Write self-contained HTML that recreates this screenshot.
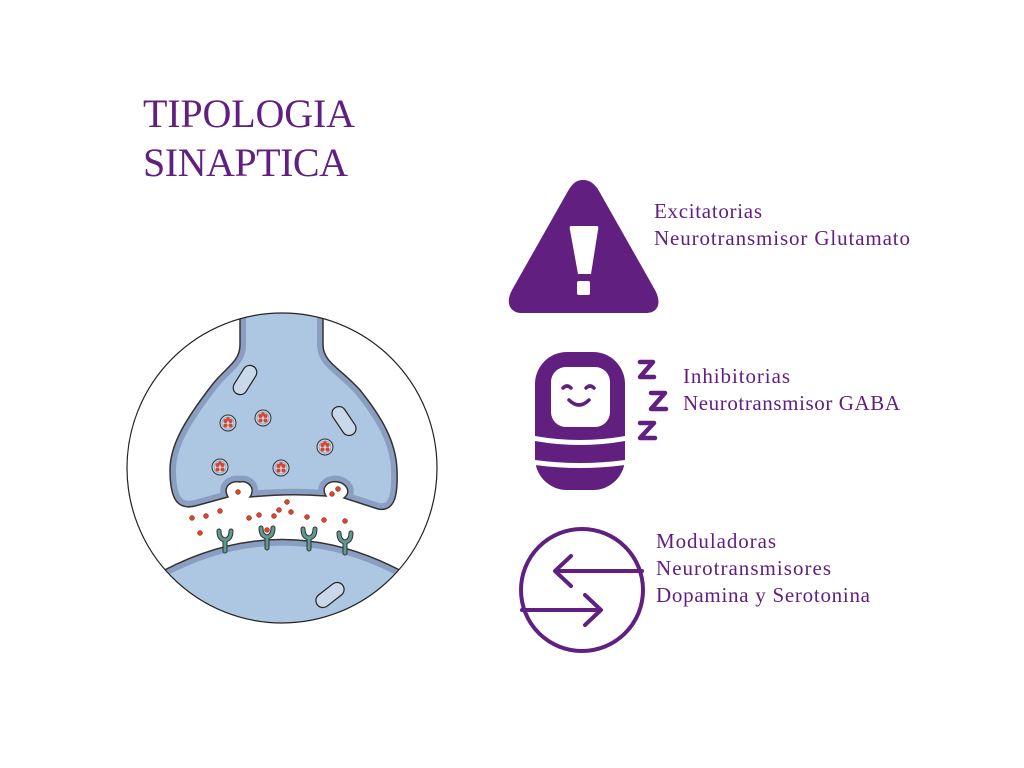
<!DOCTYPE html>
<html><head><meta charset="utf-8"><style>
html,body{margin:0;padding:0;background:#fff;}
svg{display:block;}
</style></head><body>
<svg width="1024" height="768" viewBox="0 0 1024 768" xmlns="http://www.w3.org/2000/svg">
<defs>
<clipPath id="cc"><circle cx="282" cy="468" r="155"/></clipPath>
<path id="pre" d="M240,300 L240,345 C240,362 225,368 212,385 C185,420 170,445 170,470 C170,500 178,510 195,506 L228,497 C222,486 232,480 240,482 C248,480 256,488 250,497 Q290,493 326,496 C320,486 330,480 338,482 C346,483 352,492 344,498 L378,509 C395,512 398,495 397,470 C396,440 380,415 360,390 C340,368 323,362 323,345 L323,300 Z"/>
<path id="post" d="M150,578 Q282,501 414,578 L414,650 L150,650 Z"/>
<clipPath id="cpre"><use href="#pre"/></clipPath>
<clipPath id="cpost"><use href="#post"/></clipPath>
<g id="ves"><circle r="8" fill="#c9d8ea" stroke="#333" stroke-width="1"/><circle r="6" fill="none" stroke="#8a9ec2" stroke-width="0.8"/><circle cx="-2.5" cy="-2" r="2" fill="#d9452b"/><circle cx="2.5" cy="-2" r="2" fill="#d9452b"/><circle cx="-2.5" cy="2.5" r="2" fill="#d9452b"/><circle cx="2.5" cy="2.5" r="2" fill="#d9452b"/><circle cx="0" cy="-4" r="1.8" fill="#d9452b"/></g>
<g id="mito"><rect x="-16" y="-7" width="32" height="14" rx="7" fill="#c9d8ea" stroke="#222" stroke-width="1.2"/></g>
<g id="rec"><path d="M-6,-12 Q-6,-4 0,-3 Q6,-4 6,-12 M0,-3 L0,8" fill="none" stroke="#333" stroke-width="5" stroke-linecap="round"/><path d="M-6,-12 Q-6,-4 0,-3 Q6,-4 6,-12 M0,-3 L0,8" fill="none" stroke="#5e9a8f" stroke-width="3" stroke-linecap="round"/></g>
</defs>

<text x="143" y="127" font-family="Liberation Serif, serif" font-size="40" fill="#611f80" textLength="212">TIPOLOGIA</text>
<text x="143" y="176" font-family="Liberation Serif, serif" font-size="40" fill="#611f80" textLength="205">SINAPTICA</text>

<g clip-path="url(#cc)">
  <use href="#pre" fill="#adc6e1"/>
  <g clip-path="url(#cpre)"><use href="#pre" fill="none" stroke="#8a9ec2" stroke-width="12"/></g>
  <use href="#pre" fill="none" stroke="#333" stroke-width="1.5"/>
  <use href="#post" fill="#adc6e1"/>
  <g clip-path="url(#cpost)"><use href="#post" fill="none" stroke="#8a9ec2" stroke-width="12"/></g>
  <use href="#post" fill="none" stroke="#333" stroke-width="1.5"/>
  <use href="#mito" transform="translate(245,380) rotate(-58)"/>
  <use href="#mito" transform="translate(344,421) rotate(56)"/>
  <use href="#mito" transform="translate(330,595) rotate(-38)"/>
  <use href="#ves" x="228" y="423"/>
  <use href="#ves" x="263" y="418"/>
  <use href="#ves" x="325" y="447"/>
  <use href="#ves" x="220" y="467"/>
  <use href="#ves" x="281" y="468"/>
  <g fill="#d9452b" stroke="#733" stroke-width="0.5">
    <circle cx="192" cy="518" r="2.5"/><circle cx="206" cy="516" r="2.5"/><circle cx="220" cy="511" r="2.5"/><circle cx="200" cy="533" r="2.5"/>
    <circle cx="238" cy="492" r="2.5"/><circle cx="249" cy="518" r="2.5"/><circle cx="259" cy="515" r="2.5"/><circle cx="274" cy="516" r="2.5"/>
    <circle cx="279" cy="510" r="2.5"/><circle cx="287" cy="502" r="2.5"/><circle cx="291" cy="512" r="2.5"/><circle cx="307" cy="517" r="2.5"/>
    <circle cx="324" cy="520" r="2.5"/><circle cx="345" cy="521" r="2.5"/><circle cx="332" cy="494" r="2.5"/><circle cx="338" cy="489" r="2.5"/>
    <circle cx="267" cy="530" r="2.5"/>
  </g>
  <use href="#rec" x="225" y="543"/>
  <use href="#rec" x="267" y="540"/>
  <use href="#rec" x="309" y="541"/>
  <use href="#rec" x="345" y="545"/>
</g>
<circle cx="282" cy="468" r="155" fill="none" stroke="#222" stroke-width="1.2"/>

<!-- warning -->
<path d="M583,180 C576,180 572,184 568,191 L512,290 C505,303 510,313 522,313 L646,313 C658,313 662,303 655,290 L599,191 C595,184 590,180 583,180 Z" fill="#611f80"/>
<path d="M571,226 L597,226 Q599,226 598,230 L591,274 L578,274 L570,230 Q569,226 571,226 Z" fill="#fff"/>
<rect x="577" y="281" width="13" height="14" rx="2" fill="#fff"/>
<g font-family="Liberation Serif, serif" font-size="21" fill="#611f80">
<text x="654" y="218" textLength="108">Excitatorias</text>
<text x="654" y="245" textLength="256">Neurotransmisor Glutamato</text>
<text x="683" y="383" textLength="107">Inhibitorias</text>
<text x="683" y="410" textLength="217">Neurotransmisor GABA</text>
<text x="656" y="548" textLength="120">Moduladoras</text>
<text x="656" y="575" textLength="175">Neurotransmisores</text>
<text x="656" y="602" textLength="214">Dopamina y Serotonina</text>
</g>

<!-- sleep -->
<rect x="535" y="352" width="90" height="138" rx="32" fill="#611f80"/>
<rect x="551" y="367" width="59" height="60" rx="15" fill="#fff"/>
<path d="M535,436 Q580,444 625,436 L625,441 Q580,449 535,441 Z" fill="#fff"/>
<path d="M535,460 Q580,466 625,460 L625,465 Q580,471 535,465 Z" fill="#fff"/>
<path d="M563,388 q4,-4 8,0 M586,388 q4,-4 8,0" stroke="#611f80" stroke-width="3.5" fill="none" stroke-linecap="round"/>
<path d="M569,400 Q579,410 589,400" stroke="#611f80" stroke-width="3.5" fill="none" stroke-linecap="round"/>
<g fill="none" stroke="#611f80" stroke-width="4.5" stroke-linecap="round" stroke-linejoin="round">
<path d="M640,362 L653,362 L640,377 L654,377"/>
<path d="M651,393 L665,393 L651,409 L666,409"/>
<path d="M640,423 L654,423 L640,438 L655,438"/>
</g>

<!-- modulators -->
<circle cx="582" cy="590" r="61" fill="none" stroke="#611f80" stroke-width="4"/>
<g fill="none" stroke="#611f80" stroke-width="4" stroke-linecap="round" stroke-linejoin="round">
<path d="M642,571 L556,571 M571,556 L555,571 L571,586"/>
<path d="M522,610 L600,610 M585,595 L601,610 L585,625"/>
</g>
</svg>
</body></html>
